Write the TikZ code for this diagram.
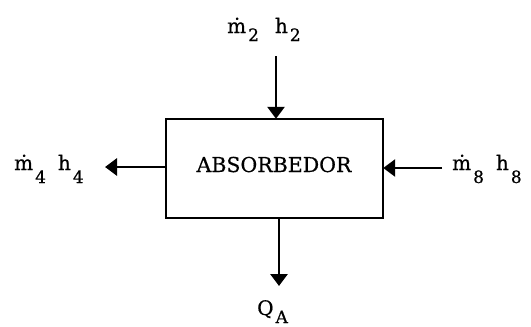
\documentclass[tikz,border=0pt]{standalone}
\usepackage{fontspec}
\setmainfont{DejaVu Serif}[BoldFont={DejaVu Serif},BoldFeatures={FakeBold=0.6}]
\usetikzlibrary{arrows.meta}
\newcommand{\lsub}[2]{\hspace{2pt}\raisebox{-#1pt}{\fontsize{17}{19}\selectfont #2}}
\begin{document}
\begin{tikzpicture}[x=1pt,y=-1pt,
  flow/.style={line width=2.8pt,-{Triangle[length=12pt,width=17pt]}},
  lbl/.style={font=\bfseries\fontsize{20}{22}\selectfont, inner sep=0pt, anchor=base west}]
\useasboundingbox (0,0) rectangle (531,327);
\draw[line width=2.8pt] (166,119) rectangle (383,218);
\node[inner sep=0pt,minimum width=217pt,minimum height=99pt] (box) at (274.5,168.5) {};
\node[inner sep=0pt, anchor=base, font=\bfseries\fontsize{20.5}{22}\selectfont] (lab) at (274,172) {ABSORBEDOR};
\node[lbl] (m2) at (227,33) {ṁ\lsub{8}{2}\hspace{16pt}h\lsub{8}{2}};
\node[lbl] (m4) at (14,170) {ṁ\lsub{13}{4}\hspace{12pt}h\lsub{13}{4}};
\node[lbl] (m8) at (452,170) {ṁ\lsub{13}{8}\hspace{12pt}h\lsub{13}{8}};
\node[lbl] (qa) at (257,315) {Q\lsub{8}{A}};
\coordinate (c2) at (276,56);
\coordinate (c4) at (105,167);
\coordinate (c8) at (442,168);
\coordinate (cq) at (279,286);
\draw[flow] (c2) -- (c2 |- box.north);
\draw[flow] (box.west |- c4) -- (c4);
\draw[flow] (c8) -- (box.east |- c8);
\draw[flow] (box.south -| cq) -- (cq);
\end{tikzpicture}
\end{document}
